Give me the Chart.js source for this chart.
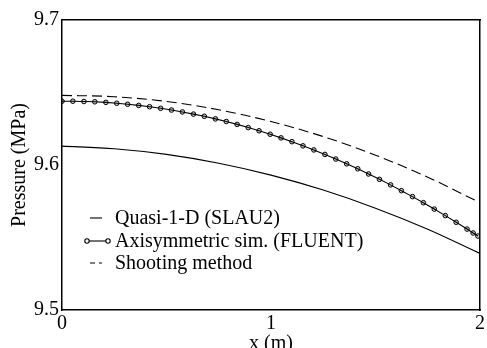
<!DOCTYPE html>
<html>
<head>
<meta charset="utf-8">
<script src="https://cdn.jsdelivr.net/npm/chart.js@4"></script>
<style>
  html, body { margin: 0; padding: 0; background: #fff; }
  #wrap { width: 487px; height: 348px; }
</style>
</head>
<body>
<div id="wrap"><canvas id="chart"></canvas></div>
<script>
// data
const lineX = [0, 0.25, 0.5, 0.75, 1.0, 1.25, 1.5, 1.75, 2.0];
const quasiP = [9.613, 9.6112, 9.6073, 9.6012, 9.593, 9.5827, 9.5702, 9.5557, 9.539];
const shootingP = [9.648, 9.6471, 9.6438, 9.6381, 9.630, 9.6196, 9.6068, 9.5916, 9.574];

const fluentX = [0, 0.052, 0.105, 0.157, 0.21, 0.262, 0.314, 0.367, 0.419, 0.472,
  0.524, 0.576, 0.629, 0.681, 0.734, 0.786, 0.838, 0.891, 0.943, 0.996,
  1.048, 1.1, 1.153, 1.205, 1.258, 1.31, 1.362, 1.415, 1.467, 1.519,
  1.572, 1.624, 1.677, 1.729, 1.781, 1.834, 1.886, 1.938, 1.967, 1.99];
const fluentP = [9.6440, 9.6440, 9.6438, 9.6436, 9.6432, 9.6426, 9.6419, 9.6411, 9.6402, 9.6391,
  9.6379, 9.6366, 9.6351, 9.6336, 9.6318, 9.6300, 9.6280, 9.6258, 9.6236, 9.6212,
  9.6187, 9.6161, 9.6132, 9.6104, 9.6073, 9.6041, 9.6008, 9.5974, 9.5938, 9.5901,
  9.5863, 9.5823, 9.5782, 9.5740, 9.5696, 9.5651, 9.5605, 9.5558, 9.5531, 9.5510];

const seriesLabels = ["Quasi-1-D (SLAU2)", "Axisymmetric sim. (FLUENT)", "Shooting method"];
const xTicks = [0, 1, 2];
const yTicks = [9.5, 9.6, 9.7];

const serif = "'Liberation Serif', 'Times New Roman', serif";

function toPoints(xs, ys) {
  return xs.map((x, i) => ({ x: x, y: ys[i] }));
}

// legend drawn inside the plot box
const innerLegend = {
  id: "innerLegend",
  afterDraw(chart) {
    const ctx = chart.ctx;
    const rows = [218, 241, 263];
    ctx.save();
    ctx.font = "20px " + serif;
    ctx.textBaseline = "middle";
    chart.data.datasets.forEach((ds, i) => {
      const y = rows[i];
      const marked = ds.pointRadius > 0;
      const a = marked ? 87 : 90;
      const b = marked ? 108 : 102;
      ctx.strokeStyle = "#000";
      ctx.lineWidth = 1.1;
      ctx.setLineDash(ds.borderDash ? [5, 4] : []);
      ctx.beginPath();
      ctx.moveTo(a, y);
      ctx.lineTo(b, y);
      ctx.stroke();
      ctx.setLineDash([]);
      if (marked) {
        [a, b].forEach(px => {
          ctx.beginPath();
          ctx.arc(px, y, 2.2, 0, Math.PI * 2);
          ctx.fillStyle = "#fff";
          ctx.fill();
          ctx.stroke();
        });
      }
      ctx.fillStyle = "#000";
      ctx.fillText(ds.label, 115, y + 1);
    });
    ctx.restore();
  }
};

new Chart(document.getElementById("chart"), {
  type: "line",
  data: {
    datasets: [
      {
        label: seriesLabels[0],
        data: toPoints(lineX, quasiP),
        borderColor: "#000",
        borderWidth: 1.1,
        pointRadius: 0,
        cubicInterpolationMode: "monotone",
        fill: false
      },
      {
        label: seriesLabels[1],
        data: toPoints(fluentX, fluentP),
        borderColor: "#000",
        borderWidth: 1.1,
        pointRadius: 2.3,
        pointBorderWidth: 1,
        pointBorderColor: "#000",
        pointBackgroundColor: "rgba(0,0,0,0.2)",
        tension: 0,
        fill: false
      },
      {
        label: seriesLabels[2],
        data: toPoints(lineX, shootingP),
        borderColor: "#000",
        borderWidth: 1.1,
        borderDash: [10, 5],
        pointRadius: 0,
        cubicInterpolationMode: "monotone",
        fill: false
      }
    ]
  },
  options: {
    responsive: true,
    maintainAspectRatio: false,
    animation: false,
    layout: { padding: 0 },
    plugins: {
      legend: { display: false },
      tooltip: { enabled: false }
    },
    scales: {
      x: {
        type: "linear",
        min: 0,
        max: 2,
        afterBuildTicks: s => { s.ticks = xTicks.map(v => ({ value: v })); },
        afterFit: s => { s.height = 38; },
        grid: { display: false, drawTicks: false },
        border: { display: true, color: "#000", width: 1.5 },
        ticks: {
          color: "#000",
          padding: 2,
          maxRotation: 0,
          font: { family: serif, size: 20 },
          callback: v => String(v)
        },
        title: {
          display: true,
          text: "x (m)",
          color: "#000",
          padding: { top: 0, bottom: -8 },
          font: { family: serif, size: 20 }
        }
      },
      xTop: {
        type: "linear",
        position: "top",
        min: 0,
        max: 2,
        afterFit: s => { s.height = 20; },
        grid: { display: false, drawTicks: false },
        border: { display: true, color: "#000", width: 1.5 },
        ticks: { display: false }
      },
      y: {
        min: 9.5,
        max: 9.7,
        afterBuildTicks: s => { s.ticks = yTicks.map(v => ({ value: v })); },
        afterFit: s => { s.width = 62; },
        grid: { display: false, drawTicks: false },
        border: { display: true, color: "#000", width: 1.5 },
        ticks: {
          color: "#000",
          padding: 3,
          font: { family: serif, size: 20 },
          callback: v => v.toFixed(1)
        },
        title: {
          display: true,
          text: "Pressure (MPa)",
          color: "#000",
          padding: { top: 8, bottom: 0 },
          font: { family: serif, size: 20 }
        }
      },
      yRight: {
        position: "right",
        min: 9.5,
        max: 9.7,
        afterFit: s => { s.width = 5; },
        grid: { display: false, drawTicks: false },
        border: { display: true, color: "#000", width: 1.5 },
        ticks: { display: false }
      }
    }
  },
  plugins: [innerLegend]
});
</script>
</body>
</html>
